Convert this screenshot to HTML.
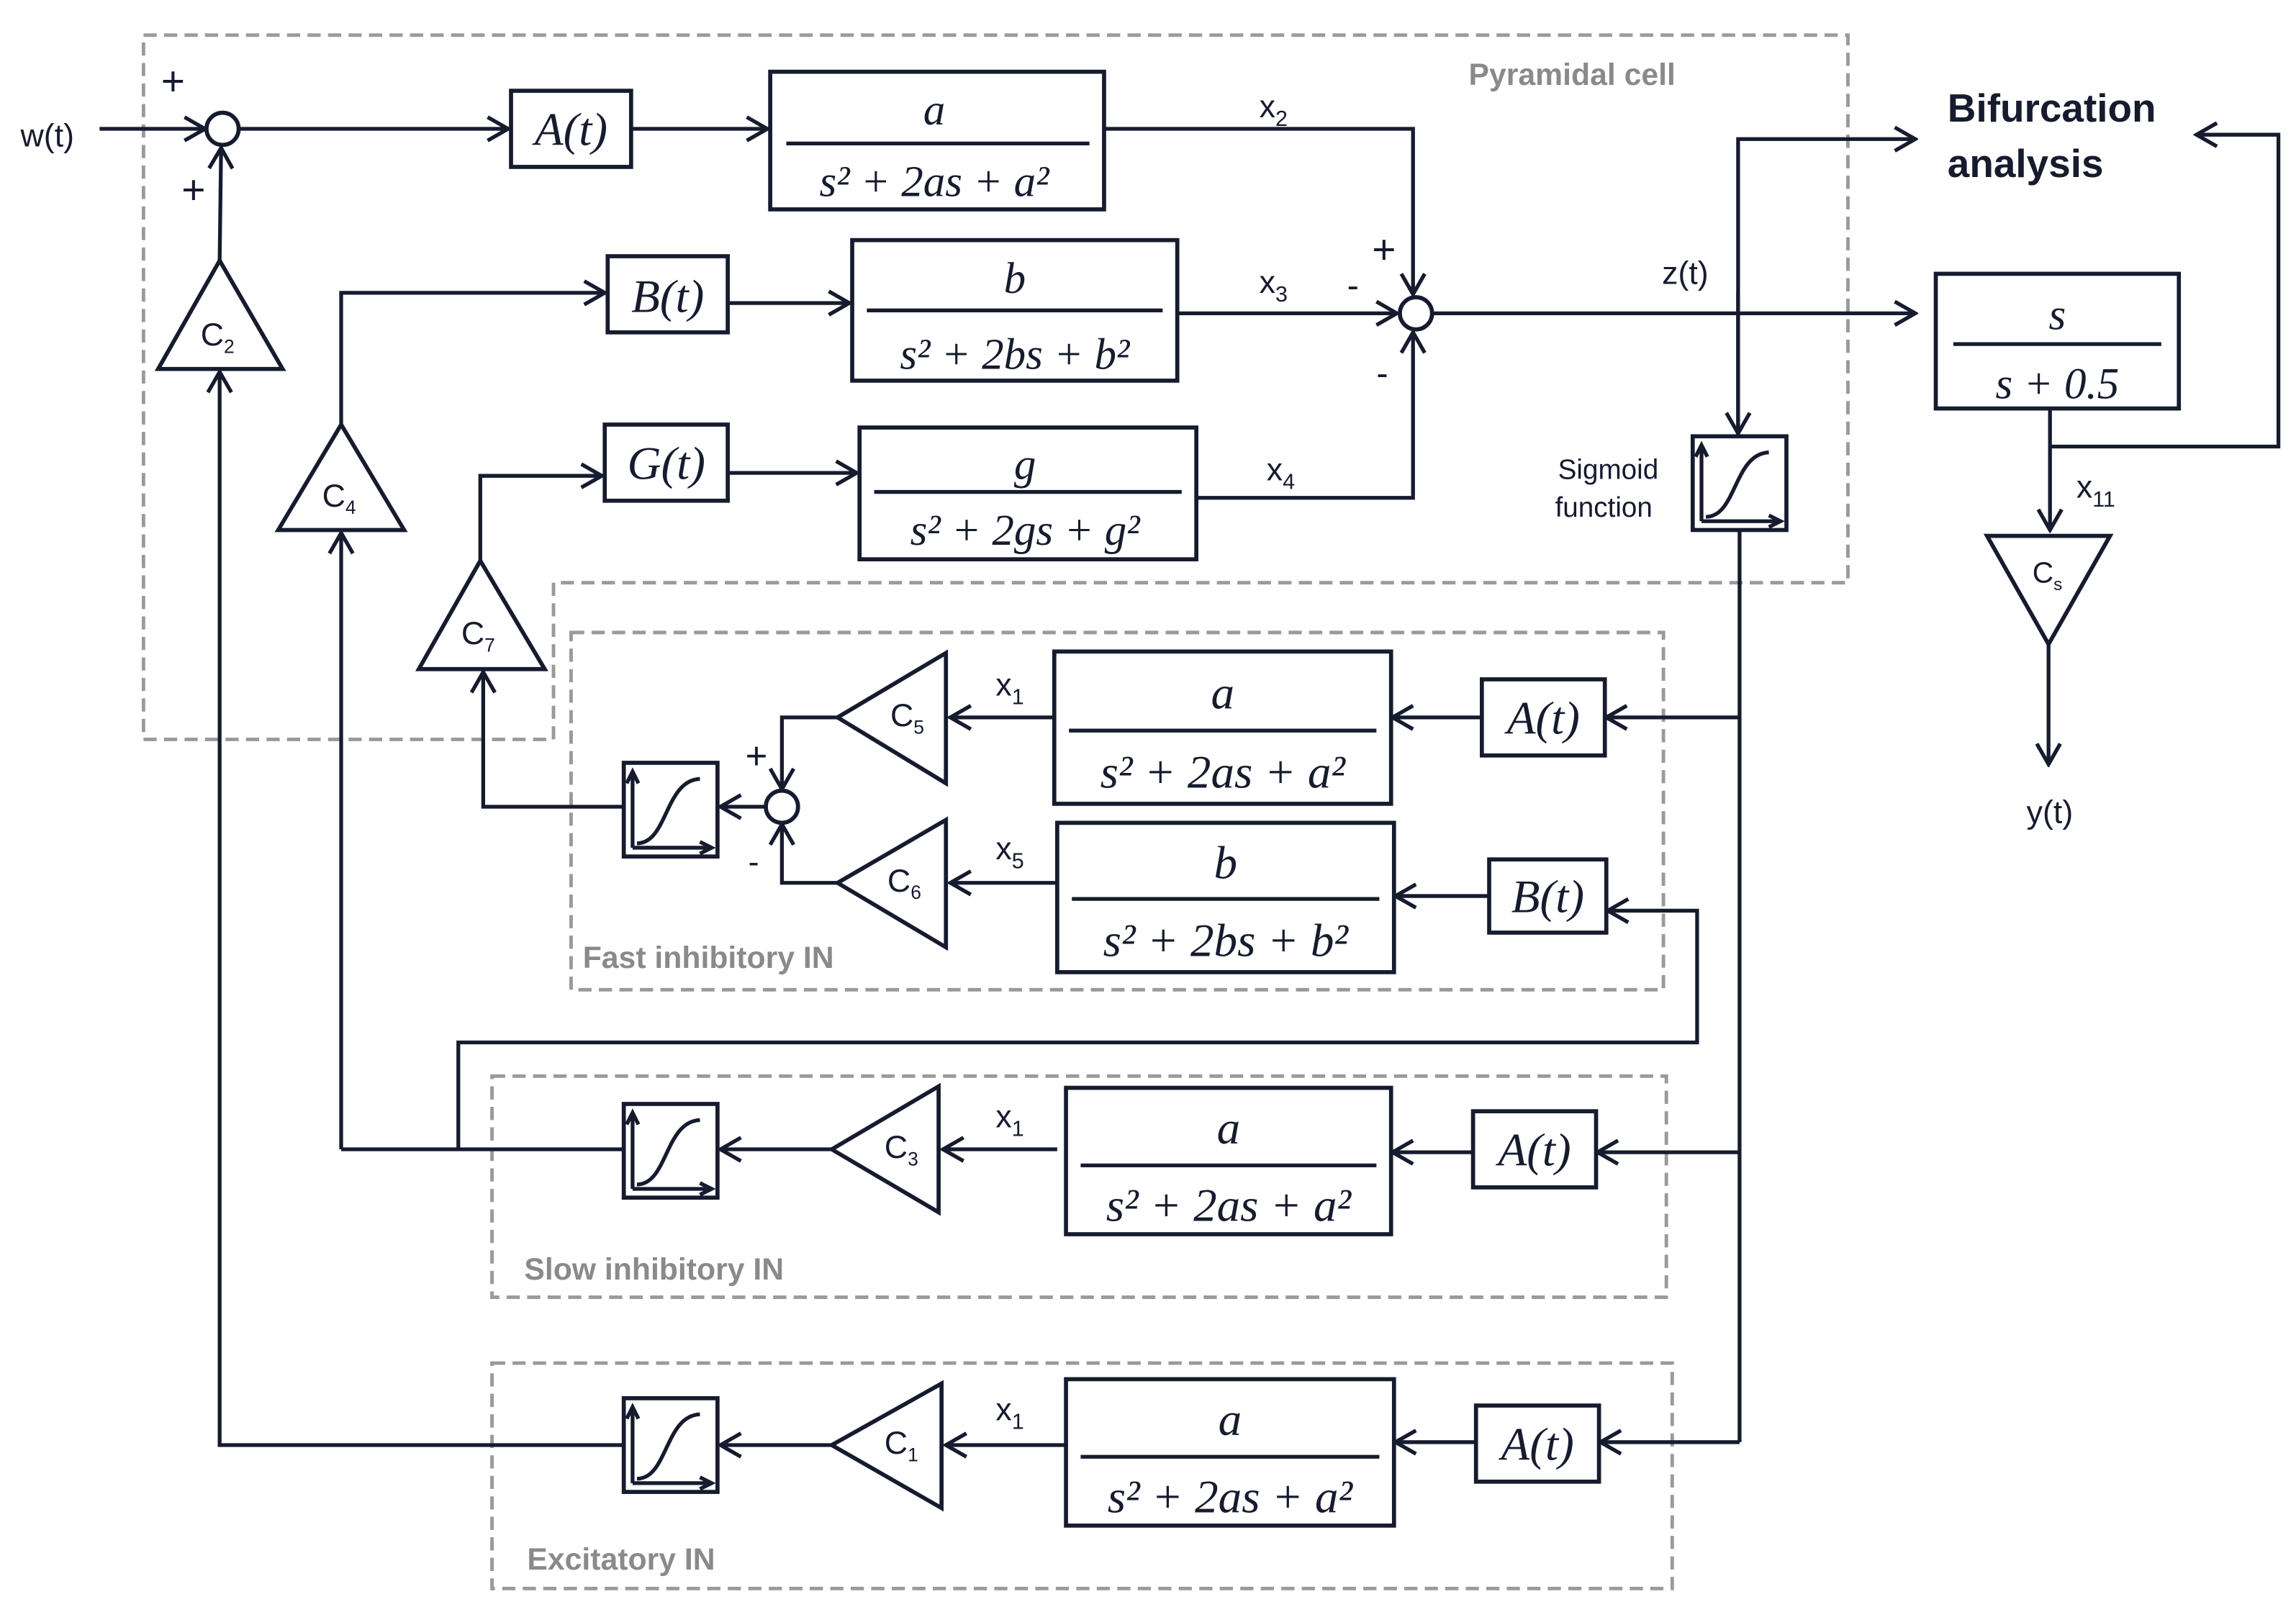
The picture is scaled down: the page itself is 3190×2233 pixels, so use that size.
<!DOCTYPE html>
<html><head><meta charset="utf-8"><style>
html,body{margin:0;padding:0;background:#fff}
svg{display:block}
.l{stroke:#161b2e;stroke-width:2.6;fill:none}
.b{stroke:#161b2e;stroke-width:2.8;fill:#fff}
.d{stroke:#9a9a9a;stroke-width:2.4;fill:none;stroke-dasharray:9,5}
.f{font-family:"Liberation Serif",serif;font-style:italic;fill:#161b2e}
.s{font-family:"Liberation Sans",sans-serif;fill:#161b2e}
.g{font-family:"Liberation Sans",sans-serif;fill:#8a8a8a;font-weight:bold;font-size:21px}
</style></head><body>
<svg width="3190" height="2233" viewBox="0 0 1568 1097.6" preserveAspectRatio="none" xmlns="http://www.w3.org/2000/svg">
<defs>
<marker id="a" markerUnits="userSpaceOnUse" markerWidth="18" markerHeight="20" refX="16" refY="10" orient="auto"><path d="M2,2 L16,10 L2,18" fill="none" stroke="#161b2e" stroke-width="2.6"/></marker>
<g id="sig"><rect x="0" y="0" width="64" height="64" class="b"/><path d="M6,58 L6,8 M2,14 L6,6 L10,14 M6,58 L60,58 M52,54 L60,58 L52,62" class="l" stroke-width="2.2"/><path d="M9,55 C30,55 28,12 52,11" class="l" stroke-width="2"/></g>
</defs>
<!-- dashed boxes -->
<path class="d" d="M98,24 H1262 V398 H378 V505 H98 Z"/>
<rect class="d" x="390" y="432" width="746" height="244"/>
<rect class="d" x="336" y="735" width="802" height="151"/>
<rect class="d" x="336" y="931" width="806" height="154"/>
<text class="g" x="1003" y="58">Pyramidal cell</text>
<text class="g" x="398" y="661">Fast inhibitory IN</text>
<text class="g" x="358" y="874">Slow inhibitory IN</text>
<text class="g" x="360" y="1072">Excitatory IN</text>

<!-- top row -->
<text class="s" x="14" y="100" font-size="22">w(t)</text>
<line class="l" x1="68" y1="88" x2="140" y2="88" marker-end="url(#a)"/>
<circle class="b" cx="152" cy="88" r="11"/>
<text class="s" x="110" y="65" font-size="28">+</text>
<text class="s" x="124" y="139" font-size="28">+</text>
<line class="l" x1="163" y1="88" x2="347" y2="88" marker-end="url(#a)"/>
<rect class="b" x="349" y="62" width="82" height="52"/>
<text class="f" x="390" y="99" font-size="32" text-anchor="middle">A(t)</text>
<line class="l" x1="431" y1="88" x2="524" y2="88" marker-end="url(#a)"/>
<rect class="b" x="526" y="49" width="228" height="94"/>
<text class="f" x="638" y="85" font-size="30" text-anchor="middle">a</text>
<line class="l" x1="537" y1="98" x2="744" y2="98" stroke-width="1.5"/>
<text class="f" x="638" y="134" font-size="30" text-anchor="middle">s² + 2as + a²</text>
<path class="l" d="M754,88 H965 V201" marker-end="url(#a)"/>
<text class="s" x="860" y="80" font-size="22">x<tspan font-size="15" dy="6">2</tspan></text>
<text class="s" x="937" y="180" font-size="28">+</text>

<!-- C2 -->
<polygon class="b" points="150,178 108,252 193,252"/>
<text class="s" x="137" y="236" font-size="22">C<tspan font-size="13" dy="5">2</tspan></text>
<line class="l" x1="150" y1="178" x2="151" y2="101" marker-end="url(#a)"/>
<path class="l" d="M425,987 H150 V254" marker-end="url(#a)"/>

<!-- B row -->
<polygon class="b" points="233,290 190,362 276,362"/>
<text class="s" x="220" y="346" font-size="22">C<tspan font-size="13" dy="5">4</tspan></text>
<path class="l" d="M233,290 V200 H413" marker-end="url(#a)"/>
<rect class="b" x="415" y="175" width="82" height="52"/>
<text class="f" x="456" y="213" font-size="32" text-anchor="middle">B(t)</text>
<line class="l" x1="497" y1="207" x2="580" y2="207" marker-end="url(#a)"/>
<rect class="b" x="582" y="164" width="222" height="96"/>
<text class="f" x="693" y="200" font-size="30" text-anchor="middle">b</text>
<line class="l" x1="592" y1="212" x2="794" y2="212" stroke-width="1.5"/>
<text class="f" x="693" y="252" font-size="30" text-anchor="middle">s² + 2bs + b²</text>
<line class="l" x1="804" y1="214" x2="954" y2="214" marker-end="url(#a)"/>
<text class="s" x="860" y="200" font-size="22">x<tspan font-size="15" dy="6">3</tspan></text>
<text class="s" x="920" y="203" font-size="24">-</text>
<circle class="b" cx="967" cy="214" r="11"/>
<path class="l" d="M233,785 V364" marker-end="url(#a)"/>

<!-- G row -->
<polygon class="b" points="328,383 286,457 372,457"/>
<text class="s" x="315" y="440" font-size="22">C<tspan font-size="13" dy="5">7</tspan></text>
<path class="l" d="M328,383 V325 H411" marker-end="url(#a)"/>
<rect class="b" x="413" y="290" width="84" height="52"/>
<text class="f" x="455" y="327" font-size="32" text-anchor="middle">G(t)</text>
<line class="l" x1="497" y1="323" x2="585" y2="323" marker-end="url(#a)"/>
<rect class="b" x="587" y="292" width="230" height="90"/>
<text class="f" x="700" y="327" font-size="30" text-anchor="middle">g</text>
<line class="l" x1="597" y1="336" x2="807" y2="336" stroke-width="1.5"/>
<text class="f" x="700" y="372" font-size="30" text-anchor="middle">s² + 2gs + g²</text>
<path class="l" d="M817,340 H965 V227" marker-end="url(#a)"/>
<text class="s" x="865" y="328" font-size="22">x<tspan font-size="15" dy="6">4</tspan></text>
<text class="s" x="940" y="263" font-size="24">-</text>

<!-- output -->
<line class="l" x1="978" y1="214" x2="1308" y2="214" marker-end="url(#a)"/>
<text class="s" x="1135" y="194" font-size="22">z(t)</text>
<path class="l" d="M1187,297 V95 H1308" marker-end="url(#a)"/>
<line class="l" x1="1187" y1="200" x2="1187" y2="296" marker-end="url(#a)"/>
<use href="#sig" x="1156" y="298"/>
<text class="s" x="1064" y="327" font-size="19">Sigmoid</text>
<text class="s" x="1062" y="353" font-size="19">function</text>
<text class="s" x="1330" y="83" font-size="27" font-weight="bold">Bifurcation</text>
<text class="s" x="1330" y="121" font-size="27" font-weight="bold">analysis</text>
<rect class="b" x="1322" y="187" width="166" height="92"/>
<text class="f" x="1405" y="225" font-size="30" text-anchor="middle">s</text>
<line class="l" x1="1334" y1="235" x2="1476" y2="235" stroke-width="1.5"/>
<text class="f" x="1405" y="272" font-size="30" text-anchor="middle">s + 0.5</text>
<path class="l" d="M1400,305 H1556 V92 H1500" marker-end="url(#a)"/>
<line class="l" x1="1400" y1="279" x2="1400" y2="362" marker-end="url(#a)"/>
<text class="s" x="1418" y="340" font-size="22">x<tspan font-size="15" dy="6">11</tspan></text>
<polygon class="b" points="1357,366 1441,366 1399,440"/>
<text class="s" x="1388" y="398" font-size="20">C<tspan font-size="12" dy="5">s</tspan></text>
<line class="l" x1="1399" y1="440" x2="1399" y2="522" marker-end="url(#a)"/>
<text class="s" x="1384" y="562" font-size="22">y(t)</text>

<!-- sigmoid down trunk -->
<path class="l" d="M1188,362 V985"/>
<line class="l" x1="1188" y1="490" x2="1097" y2="490" marker-end="url(#a)"/>
<line class="l" x1="1188" y1="787" x2="1091" y2="787" marker-end="url(#a)"/>
<line class="l" x1="1188" y1="985" x2="1093" y2="985" marker-end="url(#a)"/>
<path class="l" d="M313,785 V712 H1159 V622 H1098" marker-end="url(#a)"/>

<!-- Fast inhibitory -->
<rect class="b" x="1012" y="464" width="84" height="52"/>
<text class="f" x="1054" y="501" font-size="32" text-anchor="middle">A(t)</text>
<line class="l" x1="1012" y1="490" x2="951" y2="490" marker-end="url(#a)"/>
<rect class="b" x="720" y="445" width="230" height="104"/>
<text class="f" x="835" y="484" font-size="32" text-anchor="middle">a</text>
<line class="l" x1="730" y1="499" x2="940" y2="499" stroke-width="1.5"/>
<text class="f" x="835" y="538" font-size="32" text-anchor="middle">s² + 2as + a²</text>
<line class="l" x1="720" y1="490" x2="649" y2="490" marker-end="url(#a)"/>
<text class="s" x="680" y="475" font-size="22">x<tspan font-size="15" dy="6">1</tspan></text>
<polygon class="b" points="572,490 646,446 646,535"/>
<text class="s" x="608" y="496" font-size="22">C<tspan font-size="13" dy="5">5</tspan></text>
<path class="l" d="M572,490 H534 V539" marker-end="url(#a)"/>
<text class="s" x="509" y="525" font-size="26">+</text>
<circle class="b" cx="534" cy="551" r="11"/>
<rect class="b" x="1017" y="587" width="80" height="50"/>
<text class="f" x="1057" y="623" font-size="32" text-anchor="middle">B(t)</text>
<line class="l" x1="1017" y1="612" x2="953" y2="612" marker-end="url(#a)"/>
<rect class="b" x="722" y="562" width="230" height="102"/>
<text class="f" x="837" y="600" font-size="32" text-anchor="middle">b</text>
<line class="l" x1="732" y1="614" x2="942" y2="614" stroke-width="1.5"/>
<text class="f" x="837" y="653" font-size="32" text-anchor="middle">s² + 2bs + b²</text>
<line class="l" x1="722" y1="603" x2="649" y2="603" marker-end="url(#a)"/>
<text class="s" x="680" y="587" font-size="22">x<tspan font-size="15" dy="6">5</tspan></text>
<polygon class="b" points="572,603 646,560 646,647"/>
<text class="s" x="606" y="609" font-size="22">C<tspan font-size="13" dy="5">6</tspan></text>
<path class="l" d="M572,603 H534 V563" marker-end="url(#a)"/>
<text class="s" x="511" y="596" font-size="22">-</text>
<line class="l" x1="523" y1="551" x2="492" y2="551" marker-end="url(#a)"/>
<use href="#sig" x="426" y="521"/>
<path class="l" d="M426,551 H330 V459" marker-end="url(#a)"/>

<!-- Slow inhibitory -->
<rect class="b" x="1006" y="759" width="84" height="52"/>
<text class="f" x="1048" y="796" font-size="32" text-anchor="middle">A(t)</text>
<line class="l" x1="1006" y1="787" x2="951" y2="787" marker-end="url(#a)"/>
<rect class="b" x="728" y="743" width="222" height="100"/>
<text class="f" x="839" y="781" font-size="32" text-anchor="middle">a</text>
<line class="l" x1="738" y1="796" x2="940" y2="796" stroke-width="1.5"/>
<text class="f" x="839" y="834" font-size="32" text-anchor="middle">s² + 2as + a²</text>
<line class="l" x1="722" y1="785" x2="644" y2="785" marker-end="url(#a)"/>
<text class="s" x="680" y="770" font-size="22">x<tspan font-size="15" dy="6">1</tspan></text>
<polygon class="b" points="568,785 641,742 641,828"/>
<text class="s" x="604" y="791" font-size="22">C<tspan font-size="13" dy="5">3</tspan></text>
<line class="l" x1="568" y1="785" x2="492" y2="785" marker-end="url(#a)"/>
<use href="#sig" x="426" y="754"/>
<line class="l" x1="426" y1="785" x2="233" y2="785"/>

<!-- Excitatory -->
<rect class="b" x="1008" y="960" width="84" height="52"/>
<text class="f" x="1050" y="997" font-size="32" text-anchor="middle">A(t)</text>
<line class="l" x1="1008" y1="985" x2="953" y2="985" marker-end="url(#a)"/>
<rect class="b" x="728" y="942" width="224" height="100"/>
<text class="f" x="840" y="980" font-size="32" text-anchor="middle">a</text>
<line class="l" x1="738" y1="995" x2="942" y2="995" stroke-width="1.5"/>
<text class="f" x="840" y="1033" font-size="32" text-anchor="middle">s² + 2as + a²</text>
<line class="l" x1="728" y1="987" x2="646" y2="987" marker-end="url(#a)"/>
<text class="s" x="680" y="970" font-size="22">x<tspan font-size="15" dy="6">1</tspan></text>
<polygon class="b" points="568,987 643,945 643,1030"/>
<text class="s" x="604" y="993" font-size="22">C<tspan font-size="13" dy="5">1</tspan></text>
<line class="l" x1="568" y1="987" x2="492" y2="987" marker-end="url(#a)"/>
<use href="#sig" x="426" y="955"/>
</svg>
</body></html>
